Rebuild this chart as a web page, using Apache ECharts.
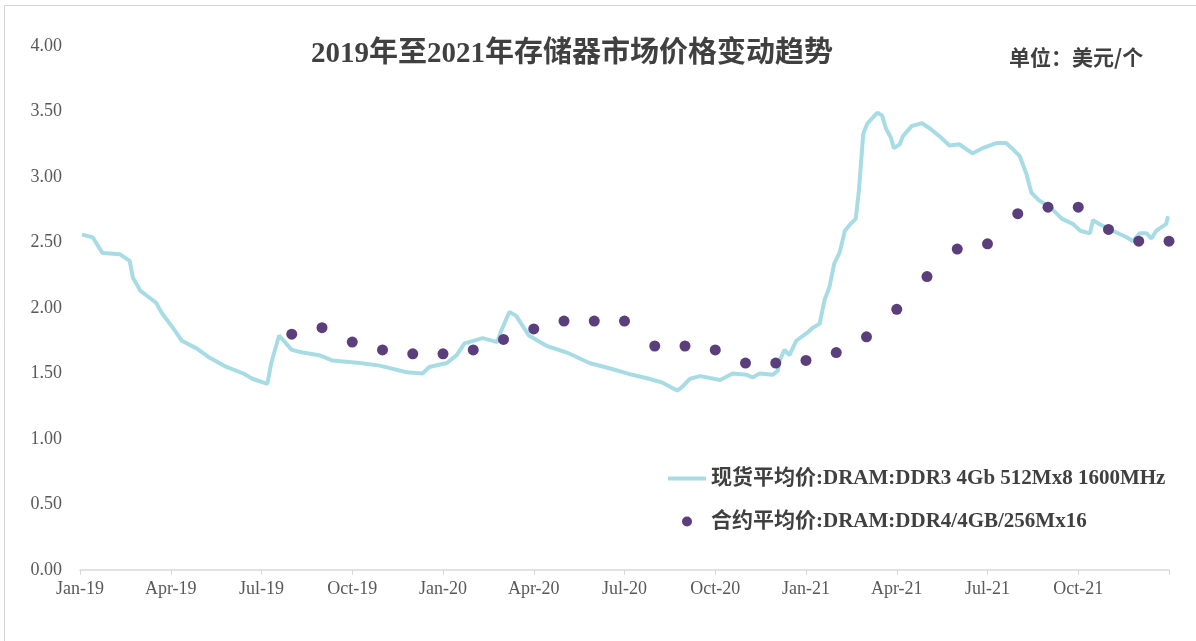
<!DOCTYPE html>
<html>
<head>
<meta charset="utf-8">
<script src="https://cdn.jsdelivr.net/npm/echarts@6/dist/echarts.min.js"></script>
<style>
  html, body { margin: 0; padding: 0; background: #fff; }
  #chart { width: 1196px; height: 641px; }
</style>
</head>
<body>
<div id="chart"></div>
<script>
// x axis tick labels, one per quarter
var quarterLabels = ['Jan-19', 'Apr-19', 'Jul-19', 'Oct-19', 'Jan-20', 'Apr-20',
  'Jul-20', 'Oct-20', 'Jan-21', 'Apr-21', 'Jul-21', 'Oct-21']

// 现货平均价 DDR3 4Gb
var spotDates = [
  '2019-01-03', '2019-01-14', '2019-01-24', '2019-02-10', '2019-02-19', '2019-02-22', '2019-03-01',
  '2019-03-17', '2019-03-23', '2019-04-03', '2019-04-12', '2019-04-27', '2019-05-10', '2019-05-27',
  '2019-06-13', '2019-06-22', '2019-07-07', '2019-07-11', '2019-07-19', '2019-08-01', '2019-08-12',
  '2019-08-29', '2019-09-11', '2019-10-09', '2019-10-29', '2019-11-25', '2019-12-11', '2019-12-18',
  '2020-01-05', '2020-01-15', '2020-01-23', '2020-02-10', '2020-02-24', '2020-02-28', '2020-03-07',
  '2020-03-14', '2020-03-27', '2020-04-14', '2020-05-04', '2020-05-27', '2020-06-16', '2020-07-09',
  '2020-07-26', '2020-08-09', '2020-08-24', '2020-08-28', '2020-09-06', '2020-09-16', '2020-10-06',
  '2020-10-19', '2020-11-02', '2020-11-08', '2020-11-15', '2020-11-28', '2020-12-03', '2020-12-05',
  '2020-12-10', '2020-12-15', '2020-12-22', '2021-01-02', '2021-01-08', '2021-01-15', '2021-01-20',
  '2021-01-25', '2021-01-30', '2021-02-04', '2021-02-09', '2021-02-14', '2021-02-19', '2021-02-22',
  '2021-02-26', '2021-03-02', '2021-03-07', '2021-03-12', '2021-03-17', '2021-03-21', '2021-03-26',
  '2021-03-29', '2021-04-04', '2021-04-07', '2021-04-16', '2021-04-26', '2021-05-04', '2021-05-14',
  '2021-05-24', '2021-06-03', '2021-06-16', '2021-06-26', '2021-07-11', '2021-07-20', '2021-07-26',
  '2021-08-03', '2021-08-10', '2021-08-15', '2021-08-23', '2021-09-03', '2021-09-15', '2021-09-26',
  '2021-10-03', '2021-10-13', '2021-10-16', '2021-10-23', '2021-11-05', '2021-11-19', '2021-11-25',
  '2021-12-02', '2021-12-09', '2021-12-14', '2021-12-19', '2021-12-29', '2021-12-31'
]
var spotValues = [
  2.56, 2.54, 2.42, 2.41, 2.36, 2.23, 2.13,
  2.04, 1.96, 1.85, 1.75, 1.69, 1.62, 1.55,
  1.50, 1.46, 1.42, 1.58, 1.79, 1.68, 1.66,
  1.64, 1.60, 1.58, 1.56, 1.51, 1.50, 1.55,
  1.58, 1.64, 1.73, 1.77, 1.74, 1.83, 1.97,
  1.94, 1.79, 1.71, 1.66, 1.58, 1.54, 1.49,
  1.46, 1.43, 1.37, 1.39, 1.46, 1.48, 1.45,
  1.50, 1.49, 1.47, 1.50, 1.49, 1.52, 1.60,
  1.68, 1.64, 1.75, 1.81, 1.85, 1.88, 2.06,
  2.16, 2.34, 2.42, 2.59, 2.64, 2.68, 2.90,
  3.33, 3.41, 3.45, 3.49, 3.47, 3.37, 3.30,
  3.22, 3.25, 3.31, 3.39, 3.41, 3.37, 3.31,
  3.24, 3.25, 3.18, 3.22, 3.26, 3.26, 3.22,
  3.16, 3.02, 2.88, 2.82, 2.77, 2.68, 2.64,
  2.59, 2.57, 2.67, 2.64, 2.59, 2.54, 2.51,
  2.57, 2.57, 2.53, 2.59, 2.64, 2.70
]

// 合约平均价 DDR4 4GB, month-end values
var contractMonths = [
  '2019-07', '2019-08', '2019-09', '2019-10', '2019-11', '2019-12',
  '2020-01', '2020-02', '2020-03', '2020-04', '2020-05', '2020-06',
  '2020-07', '2020-08', '2020-09', '2020-10', '2020-11', '2020-12',
  '2021-01', '2021-02', '2021-03', '2021-04', '2021-05', '2021-06',
  '2021-07', '2021-08', '2021-09', '2021-10', '2021-11', '2021-12'
]
var contractValues = [
  1.80, 1.85, 1.74, 1.68, 1.65, 1.65,
  1.68, 1.76, 1.84, 1.90, 1.90, 1.90,
  1.71, 1.71, 1.68, 1.58, 1.58, 1.60,
  1.66, 1.78, 1.99, 2.24, 2.45, 2.49,
  2.72, 2.77, 2.77, 2.60, 2.51, 2.51
]

var spotName = '现货平均价:DRAM:DDR3 4Gb 512Mx8 1600MHz'
var contractName = '合约平均价:DRAM:DDR4/4GB/256Mx16'

// months counted from Jan 2019
function dayToMonth(str) {
  var p = str.split('-').map(Number)
  var days = new Date(p[0], p[1], 0).getDate()
  return (p[0] - 2019) * 12 + (p[1] - 1) + (p[2] - 1) / days
}
function monthEnd(str) {
  var p = str.split('-').map(Number)
  return (p[0] - 2019) * 12 + p[1]
}

var serif = "'Liberation Serif', 'Noto Sans CJK SC', serif"
var lineColor = '#A8DCE5'
var dotColor = '#5A3F7C'
var chart = echarts.init(document.getElementById('chart'))

chart.setOption({
  animation: false,
  backgroundColor: '#fff',
  title: [{
    text: '2019年至2021年存储器市场价格变动趋势',
    left: 306,
    top: 35,
    textStyle: { fontFamily: serif, fontSize: 29, fontWeight: 'bold', color: '#404040' }
  }, {
    text: '单位：美元/个',
    left: 1004,
    top: 42,
    textStyle: { fontFamily: "'Noto Sans CJK SC', sans-serif", fontSize: 21, fontWeight: 'bold', color: '#404040' }
  }],
  graphic: [{
    type: 'rect',
    silent: true,
    shape: { x: 4.5, y: 5.5, width: 1200, height: 660 },
    style: { fill: 'none', stroke: '#d4d4d4', lineWidth: 1 }
  }],
  legend: {
    orient: 'vertical',
    left: 663,
    top: 463,
    itemGap: 22,
    itemWidth: 38,
    itemHeight: 10,
    textStyle: { fontFamily: serif, fontSize: 21, fontWeight: 'bold', color: '#404040' },
    data: [
      { name: spotName, icon: 'path://M0,0L38,0L38,4L0,4Z', itemStyle: { color: lineColor } },
      { name: contractName, icon: 'circle', itemStyle: { color: dotColor, opacity: 1 } }
    ]
  },
  grid: { left: 80, right: 27, top: 46, bottom: 71 },
  xAxis: {
    type: 'value',
    min: 0,
    max: 36,
    interval: 3,
    splitLine: { show: false },
    axisLine: { lineStyle: { color: '#d9d9d9', width: 1.5 } },
    axisTick: { length: 5, lineStyle: { color: '#d9d9d9' } },
    axisLabel: {
      margin: 10,
      fontFamily: serif,
      fontSize: 18,
      color: '#595959',
      formatter: function (v) { return quarterLabels[v / 3] || '' }
    }
  },
  yAxis: {
    type: 'value',
    min: 0,
    max: 4,
    interval: 0.5,
    splitLine: { show: false },
    axisLine: { show: false },
    axisTick: { show: false },
    axisLabel: {
      margin: 18,
      fontFamily: serif,
      fontSize: 18,
      color: '#595959',
      formatter: function (v) { return v.toFixed(2) }
    }
  },
  series: [{
    name: spotName,
    type: 'line',
    symbol: 'none',
    lineStyle: { color: lineColor, width: 4 },
    itemStyle: { color: lineColor },
    data: spotDates.map(function (d, i) { return [dayToMonth(d), spotValues[i]] })
  }, {
    name: contractName,
    type: 'scatter',
    symbolSize: 11,
    itemStyle: { color: dotColor, opacity: 1 },
    z: 3,
    data: contractMonths.map(function (m, i) { return [monthEnd(m), contractValues[i]] })
  }]
})
</script>
</body>
</html>
